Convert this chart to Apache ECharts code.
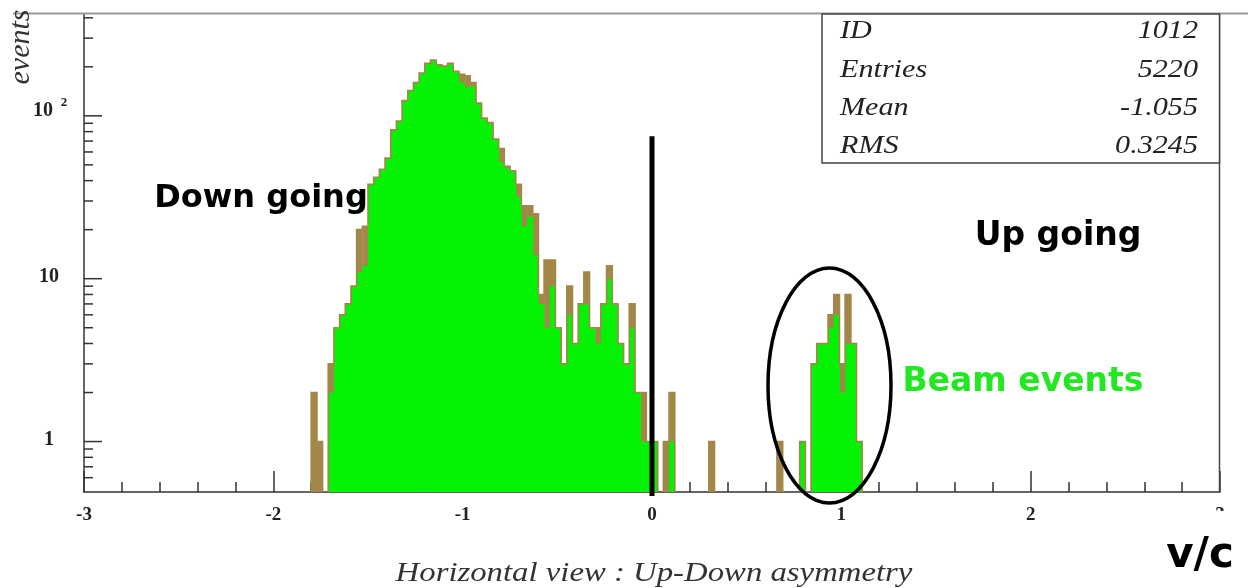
<!DOCTYPE html>
<html><head><meta charset="utf-8">
<script src="https://cdn.jsdelivr.net/npm/echarts/dist/echarts.min.js"></script>
<style>html,body{margin:0;padding:0;background:#fff}#c{width:1248px;height:588px}</style>
</head><body><div id="c"></div>
<script>
// ---- data (histogram, bin width 0.03, first bin starts at -1.80) ----
const binWidth = 0.03;
const firstBinLow = -1.80;
// all events (brown histogram)
const allCounts = [
  2,1,0,3,5,6,7,9,20,21,
  38,42,47,55,82,93,124,143,160,183,
  210,220,206,202,210,188,180,176,160,120,
  97,91,72,63,49,46,38,28,28,25,
  8,13,13,5,3,9,4,7,11,5,
  5,7,12,7,4,3,7,2,2,1,
  1,0,1,2,0,0,0,0,0,0,
  1,0,0,0,0,0,0,0,0,0,
  0,0,1,0,0,0,1,0,3,4,
  4,6,8,3,8,4,1
];
// selected events (green histogram)
const greenCounts = [
  0,0,0,2,5,6,7,9,11,12,
  38,42,47,55,82,93,124,143,158,183,
  208,220,205,200,208,186,160,150,152,118,
  96,90,71,52,48,45,32,21,24,14,
  7,5,9,5,3,6,4,7,7,5,
  4,7,10,7,4,3,5,2,1,1,
  1,0,0,1,0,0,0,0,0,0,
  0,0,0,0,0,0,0,0,0,0,
  0,0,0,0,0,0,1,0,3,4,
  4,5,6,2,4,4,1
];
const xTickValues = [-3, -2, -1, 0, 1, 2, 3];
const xTickLabels = ['-3', '-2', '-1', '0', '1', '2', '3'];
const yMajorTicks = [1, 10, 100];
const yTickLabels = ['1', '10', '10'];
const yTickExponents = ['', '', '2'];
const yMinorTicks = [0.6,0.7,0.8,0.9,2,3,4,5,6,7,8,9,20,30,40,50,60,70,80,90,200,300,400];
const statsLabels = ['ID', 'Entries', 'Mean', 'RMS'];
const statsValues = ['1012', '5220', '-1.055', '0.3245'];
const dividerAt = [[0, 75]];

// ---- styling ----
const Y_MIN = 0.49, Y_MAX = 422;
const GREEN = '#04f204', BROWN = '#a3874a', AXIS = '#333';
const SERIF = 'Liberation Serif';

const brownData = [], greenData = [];
allCounts.forEach((c, i) => { if (c > 0) brownData.push([firstBinLow + i * binWidth, c]); });
greenCounts.forEach((c, i) => { if (c > 0) greenData.push([firstBinLow + i * binWidth, c]); });

function barItem(color) {
  return function (params, api) {
    const x0 = api.value(0), c = api.value(1);
    const p0 = api.coord([x0, c]);
    const p1 = api.coord([x0 + binWidth, Y_MIN]);
    return { type: 'rect', shape: { x: p0[0], y: p0[1], width: p1[0] - p0[0] + 0.4, height: p1[1] - p0[1] },
      style: { fill: color } };
  };
}

function outlineItem(params, api) {
  if (params.dataIndex !== 0) return null;
  const children = [];
  let run = null;
  const base = api.coord([0, Y_MIN])[1];
  for (let i = 0; i <= allCounts.length; i++) {
    const c = i < allCounts.length ? allCounts[i] : 0;
    const x0 = firstBinLow + i * binWidth;
    if (c > 0) {
      const pl = api.coord([x0, c]);
      const pr = api.coord([x0 + binWidth, c]);
      if (!run) run = [[pl[0], base]];
      run.push([pl[0], pl[1]]);
      run.push([pr[0], pr[1]]);
    } else if (run) {
      const last = run[run.length - 1];
      run.push([last[0], base]);
      children.push({ type: 'polyline', shape: { points: run }, style: { stroke: BROWN, lineWidth: 1.6, fill: null } });
      run = null;
    }
  }
  return { type: 'group', children: children };
}

function yTickItem(len) {
  return function (params, api) {
    const p = api.coord([-3, api.value(1)]);
    return { type: 'line', shape: { x1: p[0], y1: p[1], x2: p[0] + len, y2: p[1] }, style: { stroke: AXIS, lineWidth: 1.5 } };
  };
}

function labelStyle(text, size) {
  return { text: text, fontFamily: SERIF, fontWeight: 'bold', fontSize: size, fill: '#222',
    textAlign: 'center', align: 'center', textVerticalAlign: 'middle', verticalAlign: 'middle' };
}

function xLabelItem(params, api) {
  const p = api.coord([api.value(0), Y_MIN]);
  return { type: 'text', x: p[0], y: p[1] + 23, style: labelStyle(xTickLabels[params.dataIndex], 19) };
}

function yLabelItem(params, api) {
  const p = api.coord([-3, api.value(1)]);
  const i = params.dataIndex;
  const exp = yTickExponents[i];
  const cx = p[0] - 35;
  const children = [{ type: 'text', x: exp ? cx - 6 : cx, y: p[1] - (exp ? 5 : 2), style: labelStyle(yTickLabels[i], 20) }];
  if (exp) children.push({ type: 'text', x: cx + 15, y: p[1] - 13, style: labelStyle(exp, 13) });
  return { type: 'group', children: children };
}

function dividerItem(params, api) {
  const p0 = api.coord([api.value(0), api.value(1)]);
  const p1 = api.coord([api.value(0), Y_MIN]);
  return { type: 'line', shape: { x1: p0[0], y1: p0[1], x2: p1[0], y2: p1[1] + 4 }, style: { stroke: '#000', lineWidth: 5 } };
}

function txt(x, y, text, font, fill, align, extra) {
  return Object.assign({ type: 'text', z: 80, x: x, y: y,
    style: { text: text, font: font, fill: fill, textAlign: align, align: align, textVerticalAlign: 'middle', verticalAlign: 'middle' } }, extra || {});
}

const graphics = [
  // frame
  { type: 'line', z: 50, shape: { x1: 13, y1: 13.5, x2: 1248, y2: 13.5 }, style: { stroke: '#999', lineWidth: 2 } },
  { type: 'line', z: 50, shape: { x1: 1219.5, y1: 14, x2: 1219.5, y2: 492 }, style: { stroke: '#444', lineWidth: 1.5 } },
  { type: 'rect', z: 50, shape: { x: 822, y: 14, width: 397.5, height: 149 }, style: { fill: '#fff', stroke: '#444', lineWidth: 1.5 } },
  // partly hidden "3" label
  { type: 'rect', z: 60, shape: { x: 1200, y: 511, width: 40, height: 22 }, style: { fill: '#fff' } },
  // axis titles
  txt(21, 47, 'events', 'italic 30px "Liberation Serif"', '#333', 'center', { rotation: Math.PI / 2 }),
  txt(654, 574, 'Horizontal view : Up-Down asymmetry', 'italic 28px "Liberation Serif"', '#333', 'center', { scaleX: 1.17 }),
  // annotations
  txt(261, 199, 'Down going', 'bold 32px "DejaVu Sans"', '#000', 'center'),
  txt(1058, 236, 'Up going', 'bold 33px "DejaVu Sans"', '#000', 'center'),
  txt(1023, 382, 'Beam events', 'bold 33px "DejaVu Sans"', '#22e822', 'center'),
  txt(1200, 556, 'v/c', 'bold 42px "DejaVu Sans"', '#000', 'center'),
  { type: 'ellipse', z: 80, shape: { cx: 829.5, cy: 385.5, rx: 61.5, ry: 117.5 }, style: { fill: null, stroke: '#000', lineWidth: 3.5 } }
];
const statsY = [31, 70, 108.5, 146];
statsLabels.forEach((t, i) => graphics.push(txt(840, statsY[i], t, 'italic 26px "Liberation Serif"', '#222', 'left', { scaleX: 1.16 })));
statsValues.forEach((t, i) => graphics.push(txt(1198, statsY[i], t, 'italic 26px "Liberation Serif"', '#222', 'right', { scaleX: 1.16 })));

const chart = echarts.init(document.getElementById('c'), null, { renderer: 'canvas' });
chart.setOption({
  animation: false,
  backgroundColor: '#fff',
  grid: { left: 84, right: 28, top: 14, bottom: 96 },
  xAxis: {
    type: 'value', min: -3, max: 3, interval: 1,
    axisLine: { show: true, onZero: false, lineStyle: { color: AXIS, width: 1.5 } },
    axisTick: { show: true, inside: true, length: 21, lineStyle: { color: AXIS, width: 1.5 } },
    minorTick: { show: true, splitNumber: 5, length: 10, lineStyle: { color: AXIS, width: 1.5 } },
    splitLine: { show: false },
    axisLabel: { show: false }
  },
  yAxis: {
    type: 'log', logBase: 10, min: Y_MIN, max: Y_MAX,
    axisLine: { show: true, onZero: false, lineStyle: { color: AXIS, width: 1.5 } },
    axisTick: { show: false },
    splitLine: { show: false },
    axisLabel: { show: false }
  },
  series: [
    { type: 'custom', z: 2, renderItem: barItem(BROWN), data: brownData, encode: { x: 0, y: 1 } },
    { type: 'custom', z: 3, renderItem: barItem(GREEN), data: greenData, encode: { x: 0, y: 1 } },
    { type: 'custom', z: 4, renderItem: outlineItem, data: [[firstBinLow, 1]], encode: { x: 0, y: 1 } },
    { type: 'custom', z: 5, renderItem: yTickItem(9), data: yMinorTicks.map(v => [-3, v]), encode: { x: 0, y: 1 } },
    { type: 'custom', z: 5, renderItem: yTickItem(18), data: yMajorTicks.map(v => [-3, v]), encode: { x: 0, y: 1 } },
    { type: 'custom', z: 5, renderItem: xLabelItem, data: xTickValues.map(v => [v, 1]), encode: { x: 0, y: 1 } },
    { type: 'custom', z: 5, renderItem: yLabelItem, data: yMajorTicks.map(v => [-3, v]), encode: { x: 0, y: 1 } },
    { type: 'custom', z: 6, renderItem: dividerItem, data: dividerAt, encode: { x: 0, y: 1 } }
  ],
  graphic: graphics
});
</script>
</body></html>
